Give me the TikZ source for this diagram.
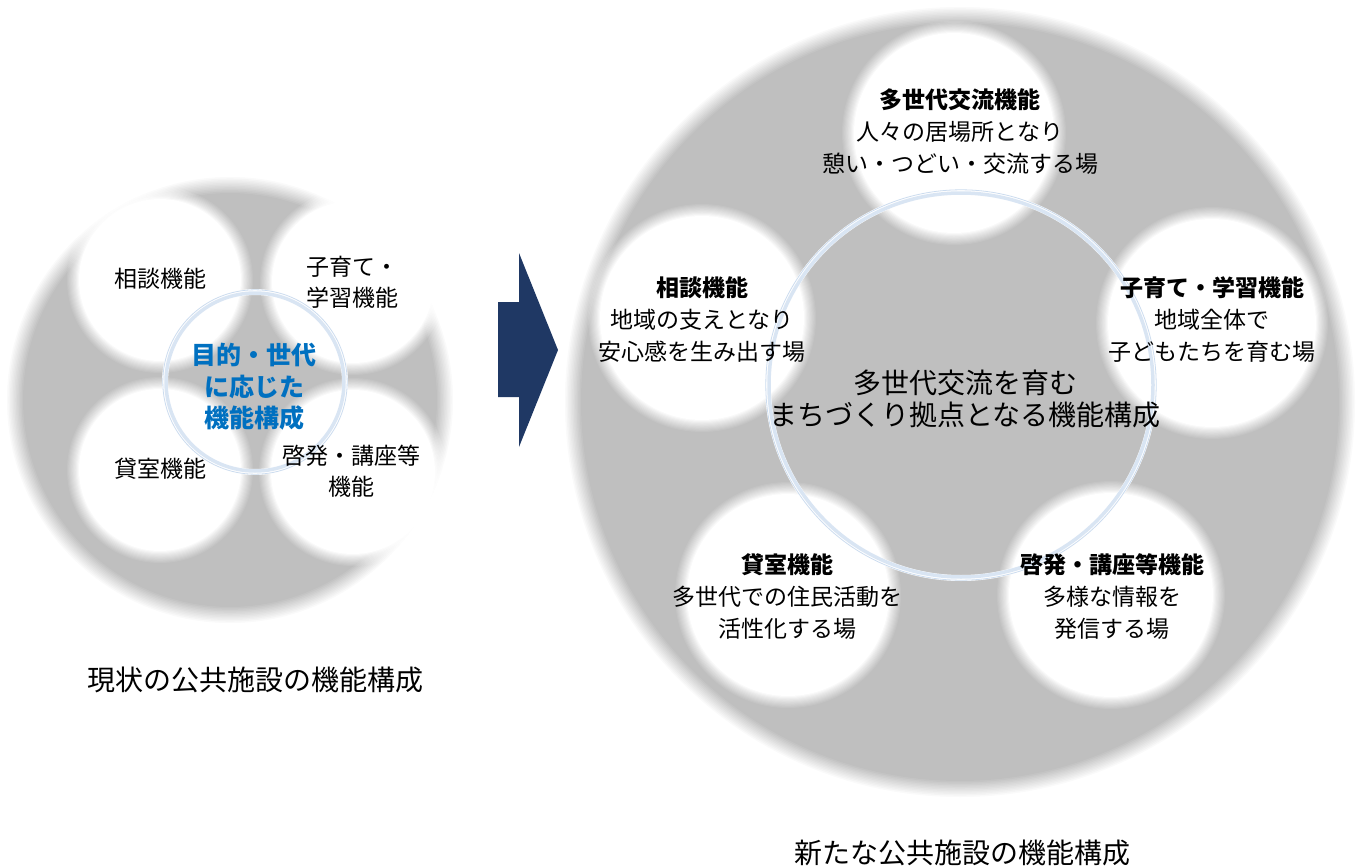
\documentclass[tikz,border=0pt]{standalone}
\usepackage{fontspec}
\newfontfamily\jp{Noto Sans CJK JP}
\definecolor{greyc}{HTML}{BFBFBF}
\definecolor{ringc}{HTML}{D9E5F3}
\definecolor{ringline}{HTML}{CCDCEF}
\definecolor{navyc}{HTML}{1F3864}
\definecolor{bluetxt}{HTML}{0070C0}
\newcommand\softdisc[5]{%
  \foreach \k in {0,...,11}{%
    \pgfmathsetmacro\op{1/(12-\k)}%
    \fill[#4, opacity=\op] (#1,#2) circle[radius={#3+#5-2*#5*\k/11}];
  }%
}
\newcommand\myring[3]{%
  \draw[white, line width=6] (#1,#2) circle[radius={#3+1}];
  \draw[ringc, line width=3.5] (#1,#2) circle[radius=#3];
  \draw[ringline, line width=0.8] (#1,#2) circle[radius={#3+3.2}];
}
\tikzset{
  lbl/.style={font=\jp\fontsize{23}{31}\selectfont, align=center, text=black, inner sep=0pt},
  rlbl/.style={font=\jp\fontsize{23}{32}\selectfont, align=center, text=black, inner sep=0pt},
  bluelbl/.style={font=\jp\bfseries\fontsize{25}{31.5}\selectfont, align=center, text=bluetxt, inner sep=0pt},
  centerlbl/.style={font=\jp\fontsize{28}{32}\selectfont, align=center, text=black, inner sep=0pt},
  caplbl/.style={font=\jp\fontsize{28}{32}\selectfont, text=black, inner sep=0pt},
  arrowshape/.style={fill=navyc, draw=none}
}
\begin{document}
\begin{tikzpicture}[x=1pt, y=-1pt]
\path[use as bounding box] (0,0) rectangle (1363,867);

% ---------- left diagram ----------
\softdisc{230}{400}{215}{greyc}{8}
\softdisc{160}{280}{87}{white}{6}
\softdisc{353}{282}{87}{white}{6}
\softdisc{160}{470}{87}{white}{6}
\softdisc{353}{472}{88}{white}{6}
\myring{255}{382}{89}

\node[lbl] (l1) at (160,279) {相談機能};
\node[lbl] (l2) at (352,282) {子育て・\\学習機能};
\node[lbl] (l3) at (160,469) {貸室機能};
\node[lbl] (l4) at (351,471) {啓発・講座等\\機能};
\node[bluelbl] (lc) at (254,387) {目的・世代\\に応じた\\機能構成};
\node[caplbl] (cap1) at (255,680) {現状の公共施設の機能構成};

% ---------- arrow ----------
\fill[arrowshape] (498,302) -- (519,302) -- (519,253) -- (558,350) -- (519,447) -- (519,397) -- (498,397) -- cycle;

% ---------- right diagram ----------
\softdisc{960}{402}{387}{greyc}{8}
\softdisc{954}{133}{106}{white}{6}
\softdisc{702}{318}{108}{white}{6}
\softdisc{1212}{323}{110}{white}{6}
\softdisc{788}{595}{107}{white}{6}
\softdisc{1111}{595}{108}{white}{6}
\myring{961}{385}{192}

\node[rlbl] (rt) at (960,132) {{\bfseries 多世代交流機能}\\人々の居場所となり\\憩い・つどい・交流する場};
\node[rlbl] (rl) at (702,320) {{\bfseries 相談機能}\\地域の支えとなり\\安心感を生み出す場};
\node[rlbl] (rr) at (1212,320) {{\bfseries 子育て・学習機能}\\地域全体で\\子どもたちを育む場};
\node[rlbl] (rbl) at (787,597) {{\bfseries 貸室機能}\\多世代での住民活動を\\活性化する場};
\node[rlbl] (rbr) at (1112,597) {{\bfseries 啓発・講座等機能}\\多様な情報を\\発信する場};
\node[centerlbl] (rc) at (965,399) {多世代交流を育む\\まちづくり拠点となる機能構成};
\node[caplbl] (cap2) at (962,853) {新たな公共施設の機能構成};
\end{tikzpicture}
\end{document}
